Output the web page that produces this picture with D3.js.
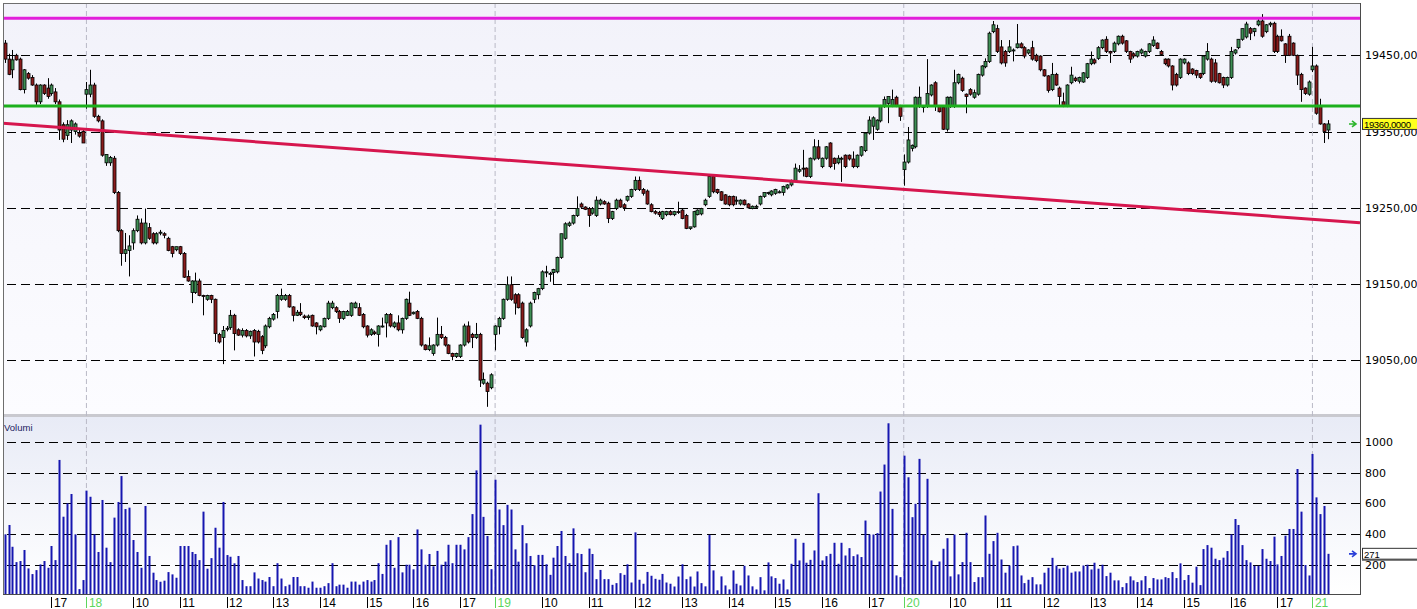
<!DOCTYPE html>
<html><head><meta charset="utf-8">
<script src="https://cdn.jsdelivr.net/npm/d3@7"></script>
<style>html,body{margin:0;padding:0;background:#fff;}svg{display:block;}</style>
</head><body><svg id="c" width="1417" height="609"></svg>
<script>
// ---- DATA (5-minute bars, index 0..340) ----
const open = [19466,19445,19431,19450,19445,19405,19426,19421,19411,19389,
19411,19407,19400,19402,19389,19359,19345,19352,19350,19348,
19350,19399,19399,19411,19370,19364,19309,19309,19315,19270,
19220,19190,19194,19204,19220,19230,19204,19224,19216,19204,
19218,19216,19210,19199,19195,19199,19190,19160,19139,19139,
19154,19135,19130,19135,19130,19084,19080,19091,19093,19109,
19090,19083,19089,19082,19089,19088,19081,19069,19094,19104,
19114,19130,19130,19135,19120,19109,19113,19108,19106,19109,
19099,19090,19094,19105,19119,19119,19114,19105,19109,19109,
19119,19119,19110,19095,19084,19087,19084,19095,19099,19110,
19094,19099,19090,19105,19125,19111,19114,19105,19070,19064,
19059,19070,19084,19080,19070,19059,19055,19055,19070,19095,
19084,19080,19084,19020,19020,19014,19084,19094,19105,19130,
19149,19136,19136,19125,19074,19095,19130,19136,19144,19166,
19164,19165,19166,19185,19210,19227,19230,19240,19255,19251,
19249,19243,19240,19255,19258,19256,19236,19249,19260,19254,
19260,19265,19274,19286,19274,19272,19254,19245,19244,19236,
19241,19245,19241,19245,19247,19240,19223,19225,19241,19242,
19254,19265,19291,19274,19271,19267,19265,19265,19259,19255,
19260,19255,19249,19252,19255,19265,19269,19267,19269,19271,
19270,19276,19280,19286,19298,19302,19302,19291,19314,19330,
19304,19315,19335,19315,19309,19315,19319,19319,19314,19304,
19319,19325,19348,19357,19353,19364,19383,19387,19384,19395,
19384,19300,19310,19328,19330,19383,19383,19383,19398,19414,
19383,19382,19353,19383,19383,19414,19420,19399,19405,19395,
19399,19424,19435,19442,19481,19485,19461,19455,19455,19457,
19460,19465,19460,19453,19460,19450,19449,19431,19423,19405,
19425,19407,19389,19384,19414,19420,19416,19415,19421,19439,
19444,19446,19460,19471,19455,19455,19465,19475,19469,19455,
19452,19449,19453,19449,19455,19463,19466,19455,19445,19445,
19436,19425,19421,19440,19440,19432,19430,19426,19426,19445,
19445,19440,19426,19421,19411,19421,19453,19460,19471,19474,
19485,19481,19490,19495,19481,19490,19492,19475,19475,19465,
19475,19466,19450,19425,19407,19399,19431,19436,19383,19360,
19352];
const high = [19470,19452,19457,19452,19447,19432,19428,19424,19413,19412,
19412,19420,19413,19407,19392,19362,19365,19366,19362,19352,
19352,19415,19431,19414,19372,19366,19320,19318,19318,19272,
19222,19217,19214,19223,19240,19236,19249,19230,19218,19218,
19221,19218,19212,19200,19199,19200,19192,19168,19155,19165,
19157,19136,19136,19136,19131,19086,19095,19095,19116,19111,
19092,19092,19091,19089,19091,19090,19083,19097,19107,19112,
19137,19144,19137,19137,19121,19116,19125,19110,19110,19110,
19100,19096,19106,19128,19128,19121,19116,19115,19116,19126,
19127,19125,19112,19096,19092,19089,19096,19106,19112,19112,
19101,19109,19106,19131,19140,19114,19116,19107,19071,19080,
19071,19106,19095,19082,19071,19060,19060,19071,19098,19101,
19086,19099,19086,19034,19022,19033,19096,19107,19131,19160,
19160,19138,19138,19127,19092,19127,19140,19145,19168,19174,
19166,19170,19186,19216,19231,19232,19241,19265,19257,19252,
19251,19251,19265,19262,19260,19258,19246,19262,19262,19256,
19266,19275,19291,19291,19276,19274,19256,19247,19246,19246,
19246,19247,19246,19258,19249,19242,19225,19246,19248,19250,
19262,19292,19293,19275,19272,19268,19266,19266,19265,19261,
19261,19256,19253,19254,19266,19270,19271,19273,19275,19273,
19279,19281,19287,19308,19306,19326,19303,19316,19340,19339,
19316,19331,19336,19316,19319,19317,19320,19320,19324,19320,
19331,19349,19370,19370,19366,19385,19396,19396,19405,19397,
19385,19320,19356,19333,19396,19409,19384,19445,19412,19416,
19384,19383,19396,19396,19431,19426,19422,19400,19407,19405,
19426,19437,19446,19481,19495,19490,19470,19457,19470,19459,
19491,19467,19462,19458,19469,19452,19450,19432,19424,19440,
19427,19409,19401,19412,19435,19422,19422,19428,19440,19455,
19446,19462,19471,19475,19456,19468,19476,19477,19470,19456,
19454,19456,19459,19456,19466,19475,19467,19457,19446,19446,
19437,19427,19446,19446,19442,19433,19431,19427,19450,19466,
19447,19445,19427,19422,19422,19461,19458,19471,19485,19494,
19487,19486,19498,19504,19491,19494,19494,19477,19484,19466,
19478,19467,19451,19427,19408,19417,19461,19438,19393,19361,
19365];
const low = [19440,19424,19420,19443,19404,19400,19418,19410,19385,19386,
19398,19393,19397,19386,19339,19336,19339,19335,19346,19342,
19335,19380,19395,19368,19362,19317,19305,19305,19268,19218,
19174,19179,19160,19195,19218,19202,19202,19208,19202,19202,
19214,19210,19193,19185,19193,19188,19158,19153,19125,19137,
19134,19109,19128,19125,19074,19072,19045,19088,19090,19063,
19082,19080,19080,19078,19055,19072,19058,19066,19092,19102,
19105,19128,19128,19119,19101,19108,19108,19104,19103,19094,
19084,19088,19093,19103,19117,19112,19099,19103,19108,19107,
19118,19108,19092,19080,19082,19083,19068,19093,19080,19093,
19092,19088,19085,19103,19108,19110,19104,19068,19063,19062,
19056,19068,19078,19068,19058,19050,19053,19053,19068,19072,
19066,19078,19015,19018,18989,19012,19063,19084,19103,19128,
19128,19110,19118,19078,19068,19093,19125,19130,19142,19159,
19153,19150,19164,19183,19208,19225,19228,19238,19250,19247,
19225,19241,19238,19253,19254,19230,19234,19247,19250,19246,
19258,19263,19272,19272,19266,19254,19244,19241,19238,19234,
19239,19240,19239,19242,19235,19222,19221,19224,19240,19240,
19252,19263,19269,19268,19259,19254,19252,19252,19254,19253,
19253,19249,19248,19250,19253,19263,19267,19265,19267,19269,
19266,19274,19278,19284,19296,19291,19290,19289,19312,19313,
19302,19313,19302,19300,19307,19284,19302,19312,19302,19302,
19317,19323,19346,19339,19351,19362,19381,19361,19382,19382,
19364,19279,19308,19324,19328,19381,19375,19381,19396,19377,
19375,19352,19350,19381,19381,19412,19402,19374,19397,19393,
19397,19422,19433,19440,19479,19453,19438,19435,19453,19442,
19459,19459,19446,19451,19443,19441,19429,19422,19401,19403,
19410,19384,19382,19382,19412,19415,19413,19414,19419,19437,
19438,19444,19458,19453,19440,19453,19463,19464,19453,19440,
19446,19447,19451,19447,19453,19461,19458,19450,19437,19434,
19404,19409,19419,19438,19424,19424,19420,19419,19424,19443,
19414,19414,19413,19407,19409,19419,19451,19458,19469,19472,
19470,19475,19488,19473,19479,19487,19453,19453,19468,19440,
19449,19449,19411,19389,19398,19397,19428,19372,19359,19335,
19340];
const close = [19445,19425,19444,19444,19405,19431,19420,19411,19389,19411,
19400,19396,19411,19389,19352,19340,19359,19364,19360,19344,
19335,19405,19411,19370,19364,19319,19320,19316,19270,19220,
19190,19195,19200,19220,19235,19204,19230,19210,19204,19216,
19218,19214,19194,19190,19199,19190,19159,19154,19154,19154,
19135,19134,19135,19130,19085,19074,19089,19092,19109,19085,
19083,19089,19082,19088,19074,19074,19063,19095,19105,19110,
19135,19135,19135,19120,19109,19113,19110,19106,19108,19095,
19094,19095,19105,19125,19125,19114,19105,19114,19114,19125,
19125,19109,19094,19083,19090,19085,19095,19095,19110,19095,
19099,19090,19105,19130,19109,19113,19105,19070,19064,19069,
19070,19084,19080,19070,19059,19055,19059,19070,19095,19074,
19080,19084,19024,19025,19009,19031,19095,19105,19130,19149,
19130,19125,19119,19080,19090,19125,19139,19144,19166,19166,
19164,19169,19185,19216,19229,19230,19240,19249,19251,19248,
19240,19249,19260,19260,19255,19236,19245,19260,19251,19250,
19265,19274,19286,19274,19269,19255,19245,19243,19241,19245,
19245,19241,19245,19244,19236,19223,19225,19245,19247,19249,
19260,19291,19271,19270,19260,19255,19254,19254,19260,19260,
19254,19250,19252,19252,19265,19270,19270,19272,19274,19271,
19278,19280,19286,19302,19300,19301,19291,19315,19330,19315,
19315,19330,19304,19308,19315,19315,19304,19314,19304,19319,
19330,19348,19365,19368,19365,19384,19392,19396,19392,19383,
19370,19310,19339,19332,19395,19395,19383,19400,19411,19383,
19376,19353,19395,19395,19414,19425,19404,19396,19399,19401,
19425,19436,19442,19479,19490,19455,19440,19440,19461,19457,
19465,19460,19449,19457,19445,19443,19431,19423,19404,19425,
19411,19396,19384,19411,19424,19417,19421,19427,19439,19445,
19440,19460,19470,19455,19453,19466,19475,19466,19455,19445,
19449,19455,19457,19455,19465,19470,19459,19451,19439,19436,
19411,19411,19445,19445,19426,19426,19424,19421,19449,19455,
19416,19416,19414,19411,19421,19455,19457,19471,19485,19491,
19479,19485,19495,19475,19490,19492,19455,19455,19469,19450,
19450,19450,19424,19405,19400,19415,19436,19374,19360,19350,
19360];
const volume = [398,459,317,217,224,296,176,139,165,202,
224,180,322,230,883,513,600,661,398,41,
100,683,643,398,283,622,311,217,507,609,
778,563,572,361,283,180,583,257,148,100,
89,96,152,137,115,322,322,322,283,270,
230,546,174,243,441,311,609,263,252,209,
257,100,60,60,150,110,100,90,120,60,
210,110,60,70,120,120,60,60,50,90,
50,50,60,80,210,60,70,70,50,90,
90,70,90,100,90,100,210,140,330,360,
180,380,150,200,200,170,430,300,200,270,
190,290,200,220,330,210,330,330,300,380,
530,815,1113,512,387,171,754,560,458,590,
560,300,220,458,340,257,197,264,264,203,
134,246,322,420,257,210,437,275,270,151,
305,270,106,166,106,106,69,80,145,134,
203,84,411,102,76,153,128,108,102,140,
84,76,58,123,203,106,123,58,156,80,
59,395,163,33,124,65,39,163,76,65,
193,130,59,39,119,33,215,124,113,76,
104,39,206,369,228,343,213,232,293,666,
228,256,271,343,206,343,260,308,256,267,
250,488,397,397,406,677,853,1122,564,130,
119,911,770,510,597,890,397,760,228,195,
221,304,373,124,397,137,217,408,217,87,
119,119,521,271,354,408,234,148,195,321,
325,130,80,102,119,72,72,148,180,245,
195,174,180,195,148,156,156,195,200,169,
213,174,200,126,148,98,98,54,80,124,
98,87,98,126,48,113,104,104,119,113,
152,113,209,100,133,83,187,67,302,328,
311,239,230,246,289,398,498,459,328,230,
215,193,193,302,239,224,383,202,257,389,
433,433,824,546,198,130,922,639,530,583,
271];

const hourTickIdx = [12,33,45,57,69,81,93,105,117,138,150,162,174,186,198,210,222,243,255,267,279,291,303,315,327];
const hourTickLbl = ["17","10","11","12","13","14","15","16","17","10","11","12","13","14","15","16","17","10","11","12","13","14","15","16","17"];
const dayStartIdx = [21,126,231,336];
const dayLbl = ["18","19","20","21"];
const priceTicks = [19450,19350,19250,19150,19050];
const volTicks = [1000,800,600,400,200];
const resistance = 19498.5;   // magenta
const support = 19383.5;      // green
const trendIdx = [0,340];
const trendPrice = [19360.7,19233.5];
const lastPrice = 19360;
const lastVolume = 271;

// ---- LAYOUT ----
const svg = d3.select("#c");
const L = 3, R = 1360, T = 3, MB = 414, VT = 417, VB = 594;
const x = d3.scaleLinear().domain([0,340]).range([4.7,1328]);
const y = d3.scaleLinear().domain([19050,19450]).range([360.3,55.3]);
const yv = d3.scaleLinear().domain([0,1000]).range([595.4,442]);
const loc = d3.formatLocale({decimal:",",thousands:"",grouping:[3],currency:["",""]});
const f2 = loc.format(".2f"), f4 = loc.format(".4f");

const defs = svg.append("defs");
const g1 = defs.append("linearGradient").attr("id","gm").attr("x1",0).attr("y1",0).attr("x2",0).attr("y2",1);
g1.append("stop").attr("offset",0).attr("stop-color","#F2F2FA");
g1.append("stop").attr("offset",1).attr("stop-color","#FCFCFF");
const g2 = defs.append("linearGradient").attr("id","gv").attr("x1",0).attr("y1",0).attr("x2",0).attr("y2",1);
g2.append("stop").attr("offset",0).attr("stop-color","#E8EBF6");
g2.append("stop").attr("offset",1).attr("stop-color","#FFFFFF");
defs.append("clipPath").attr("id","cm").append("rect").attr("x",L).attr("y",T).attr("width",R-L).attr("height",MB-T);
defs.append("clipPath").attr("id","cv").append("rect").attr("x",L).attr("y",VT).attr("width",R-L).attr("height",VB-VT);

svg.append("rect").attr("width",1417).attr("height",609).attr("fill","#fff");
svg.append("rect").attr("x",L).attr("y",T).attr("width",R-L).attr("height",MB-T).attr("fill","url(#gm)");
svg.append("rect").attr("x",L).attr("y",VT).attr("width",R-L).attr("height",VB-VT).attr("fill","url(#gv)");
svg.append("rect").attr("x",L).attr("y",MB).attr("width",R-L).attr("height",VT-MB).attr("fill","#C9C9CF");

// price axis with grid
const ax = svg.append("g").attr("transform",`translate(${R},0)`)
  .call(d3.axisRight(y).tickValues(priceTicks).tickSizeInner(-(R-L)).tickSizeOuter(0).tickPadding(5).tickFormat(f2));
ax.select(".domain").remove();
ax.selectAll("line").attr("stroke","#000").attr("stroke-dasharray","9,5").attr("shape-rendering","crispEdges");
ax.selectAll("text").attr("font-family","DejaVu Sans").attr("font-size","11px").attr("fill","#000");

const avx = svg.append("g").attr("transform",`translate(${R},0)`)
  .call(d3.axisRight(yv).tickValues(volTicks).tickSizeInner(-(R-L)).tickSizeOuter(0).tickPadding(5).tickFormat(d3.format("d")));
avx.select(".domain").remove();
avx.selectAll("line").attr("stroke","#000").attr("stroke-dasharray","9,5").attr("shape-rendering","crispEdges");
avx.selectAll("text").attr("font-family","DejaVu Sans").attr("font-size","11px").attr("fill","#000");

// day separators
svg.append("g").selectAll("line").data(dayStartIdx).join("line")
  .attr("x1",d=>x(d)).attr("x2",d=>x(d)).attr("y1",T).attr("y2",VB)
  .attr("stroke","#B9B9C6").attr("stroke-dasharray","5,3");

// candles
const idx = d3.range(open.length);
const cg = svg.append("g").attr("clip-path","url(#cm)");
cg.selectAll("line.w").data(idx).join("line").attr("class","w")
  .attr("x1",i=>Math.round(x(i))+0.5).attr("x2",i=>Math.round(x(i))+0.5)
  .attr("y1",i=>y(Math.max(high[i],open[i],close[i]))).attr("y2",i=>y(Math.min(low[i],open[i],close[i])))
  .attr("stroke","#000").attr("stroke-width",1);
cg.selectAll("rect.b").data(idx).join("rect").attr("class","b")
  .attr("x",i=>Math.round(x(i))-1).attr("width",3)
  .attr("y",i=>y(Math.max(open[i],close[i])))
  .attr("height",i=>Math.max(1,Math.abs(y(open[i])-y(close[i]))))
  .attr("fill",i=>close[i]>=open[i]?"#3F8F55":"#8A1C1C")
  .attr("stroke","#000").attr("stroke-width",0.8);

// volume bars
svg.append("g").attr("clip-path","url(#cv)").selectAll("rect").data(idx).join("rect")
  .attr("x",i=>Math.round(x(i))-0.5).attr("width",2)
  .attr("y",i=>yv(volume[i])).attr("height",i=>yv(0)-yv(volume[i]))
  .attr("fill","#1616B0");

// level lines
const lg = svg.append("g").attr("clip-path","url(#cm)");
lg.append("line").attr("x1",L).attr("x2",R).attr("y1",y(resistance)).attr("y2",y(resistance)).attr("stroke","#E21FDB").attr("stroke-width",3);
lg.append("line").attr("x1",L).attr("x2",R).attr("y1",y(support)).attr("y2",y(support)).attr("stroke","#1DB01D").attr("stroke-width",3);
const tl = d3.scaleLinear().domain(trendIdx).range(trendPrice);
lg.append("line").attr("x1",L).attr("x2",R)
  .attr("y1",y(tl(x.invert(L)))).attr("y2",y(tl(x.invert(R))))
  .attr("stroke","#D6164E").attr("stroke-width",3);

// borders
svg.append("line").attr("x1",L+0.5).attr("x2",L+0.5).attr("y1",T).attr("y2",VB).attr("stroke","#6E6E6E");
svg.append("line").attr("x1",L).attr("x2",R).attr("y1",T+0.5).attr("y2",T+0.5).attr("stroke","#6E6E6E");
svg.append("line").attr("x1",R+0.5).attr("x2",R+0.5).attr("y1",T).attr("y2",VB+1).attr("stroke","#4A4A4A");
svg.append("line").attr("x1",L).attr("x2",R+1).attr("y1",VB+0.5).attr("y2",VB+0.5).attr("stroke","#4A4A4A");

// x axis
const allIdx = hourTickIdx.concat(dayStartIdx);
const allLbl = hourTickLbl.concat(dayLbl);
const isDay = i => dayStartIdx.includes(i);
const xa = svg.append("g").attr("transform",`translate(0,${VB+3})`)
  .call(d3.axisBottom(x).tickValues(allIdx).tickSizeInner(11).tickSizeOuter(0)
    .tickFormat(d=>allLbl[allIdx.indexOf(d)]));
xa.select(".domain").remove();
xa.selectAll(".tick line").attr("stroke",d=>isDay(d)?"#5CD65C":"#000").attr("shape-rendering","crispEdges");
xa.selectAll(".tick text").attr("y",0).attr("dy","0.86em").attr("x",2).attr("text-anchor","start")
  .attr("font-family","Liberation Sans").attr("font-size","12px").attr("fill",d=>isDay(d)?"#5CD65C":"#000");

// Volumi label
svg.append("text").attr("x",L+1).attr("y",431).text("Volumi")
  .attr("font-family","Liberation Sans").attr("font-size","9.5px").attr("fill","#1A1A5E");

// last price marker
const py = y(lastPrice);
svg.append("rect").attr("x",1362.5).attr("y",py-5.5).attr("width",60).attr("height",11)
  .attr("fill","#FFFF1E").attr("stroke","#333").attr("stroke-width",1);
svg.append("text").attr("x",1364).attr("y",py+4).text(f4(lastPrice))
  .attr("font-family","Liberation Sans").attr("font-size","9.5px").attr("textLength",47).attr("fill","#000");
svg.append("path").attr("d",`M1349,${py} L1355,${py} M1352,${py-3} L1356,${py} L1352,${py+3}`)
  .attr("stroke","#2DB52D").attr("stroke-width",1.6).attr("fill","none");

// last volume marker
const vy = yv(lastVolume);
svg.append("rect").attr("x",1362.5).attr("y",vy-5.5).attr("width",60).attr("height",11)
  .attr("fill","#fff").attr("stroke","#333").attr("stroke-width",1);
svg.append("line").attr("x1",1362).attr("x2",1417).attr("y1",vy+6).attr("y2",vy+6).attr("stroke","#555").attr("stroke-width",2);
svg.append("text").attr("x",1364).attr("y",vy+4).text(lastVolume)
  .attr("font-family","Liberation Sans").attr("font-size","9.5px").attr("fill","#000");
svg.append("path").attr("d",`M1349,${vy} L1355,${vy} M1352,${vy-3} L1356,${vy} L1352,${vy+3}`)
  .attr("stroke","#2A3FD8").attr("stroke-width",1.6).attr("fill","none");
</script></body></html>
